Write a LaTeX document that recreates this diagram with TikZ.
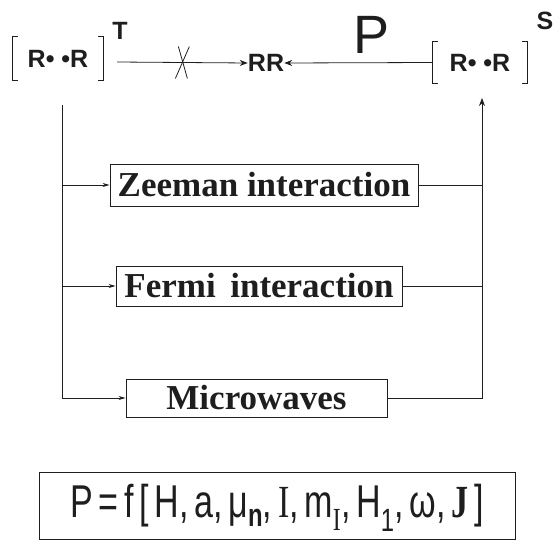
\documentclass[tikz,border=0pt]{standalone}
\usepackage{fontspec}
\setmainfont{Liberation Serif}
\setsansfont{Liberation Sans}
\usepackage{tikz}
\usetikzlibrary{arrows.meta, positioning, calc}
\definecolor{inkgray}{RGB}{30,30,30}
\tikzset{
  radpair/.style={inner sep=0pt, minimum height=43pt,
    font=\sffamily\bfseries\fontsize{25}{25}\selectfont, text=inkgray},
  spinlbl/.style={inner sep=0pt, font=\sffamily\bfseries\fontsize{25}{25}\selectfont, text=inkgray},
  intbox/.style={rectangle, draw=inkgray, line width=0.9pt, inner sep=0pt,
    font=\rmfamily\bfseries\fontsize{35}{35}\selectfont, text=inkgray},
  formbox/.style={rectangle, draw=inkgray, line width=0.9pt, inner sep=0pt},
  arrow/.style={-{Stealth[length=8pt, width=6pt]}, line width=0.8pt, color=inkgray},
  smallarrow/.style={-{Stealth[length=7pt, width=4pt]}, line width=0.8pt, color=inkgray},
  line/.style={line width=0.8pt, color=inkgray},
  bracket/.style={line width=0.9pt, color=inkgray}
}
\newcommand{\brackets}[1]{%
  \draw[bracket] ([xshift=5pt]#1.north west) -- (#1.north west) -- (#1.south west) -- ++(5pt,0);
  \draw[bracket] ([xshift=-5pt]#1.north east) -- (#1.north east) -- (#1.south east) -- ++(-5pt,0);}
\begin{document}
\begin{tikzpicture}[x=1pt, y=-1pt]
  \useasboundingbox (0,0) rectangle (553,540);

  % Radical pairs and product
  \node[radpair, minimum width=90pt] (trip) at (58,58.5) {R• •R};
  \node[radpair, minimum width=94pt, minimum height=41pt] (sing) at (480,62.5) {R• •R};
  \node[spinlbl] (rr) at (266,63) {RR};
  \node[spinlbl] (tl) at (120,31) {T};
  \node[spinlbl] (sl) at (545,21) {S};
  \node[inner sep=0pt, font=\sffamily\fontsize{54}{54}\selectfont, text=inkgray] (pl) at (372,35) {P};
  \brackets{trip}
  \brackets{sing}

  % Forbidden and allowed recombination
  \draw[arrow] (117,62) -- coordinate (cross) (rr.west);
  \draw[line] ([shift={(-7,16)}]cross) -- ([shift={(7,-16)}]cross);
  \draw[line] ([shift={(-4,-16)}]cross) -- ([shift={(5,16)}]cross);
  \draw[arrow] (sing.west) -- (rr.east);

  % Interactions
  \node[intbox, minimum width=308pt, minimum height=42pt] (zee) at (264,185) {Zeeman interaction};
  \node[intbox, minimum width=286pt, minimum height=40pt] (fer) at (259,286) {Fermi\, interaction};
  \node[intbox, minimum width=261pt, minimum height=38pt] (mw) at (256.5,398) {Microwaves};

  \coordinate (lin) at (62,105);
  \coordinate (rin) at (482,98);
  \draw[smallarrow] (lin) |- (mw.west);
  \draw[smallarrow] (lin |- zee.west) -- (zee.west);
  \draw[smallarrow] (lin |- fer.west) -- (fer.west);
  \draw[line] (zee.east) -- (zee.east -| rin);
  \draw[line] (fer.east) -- (fer.east -| rin);
  \draw[arrow] (mw.east) -| (rin);

  % Probability expression
  \node[formbox, minimum width=476pt, minimum height=67pt] (form) at (277,505.5) {};
  \node[inner sep=0pt, text=inkgray, font=\sffamily\fontsize{46}{46}\selectfont] (expr) at (277,508)
    {\scalebox{0.74}[1]{P\,=\,f\,[\,H,\,a,\,μ\textsubscript{\textbf{n}},\,{\rmfamily I},\,m\textsubscript{\rmfamily I},\,H\textsubscript{1},\,ω,\,{\rmfamily\bfseries J}\,]}};
\end{tikzpicture}
\end{document}
